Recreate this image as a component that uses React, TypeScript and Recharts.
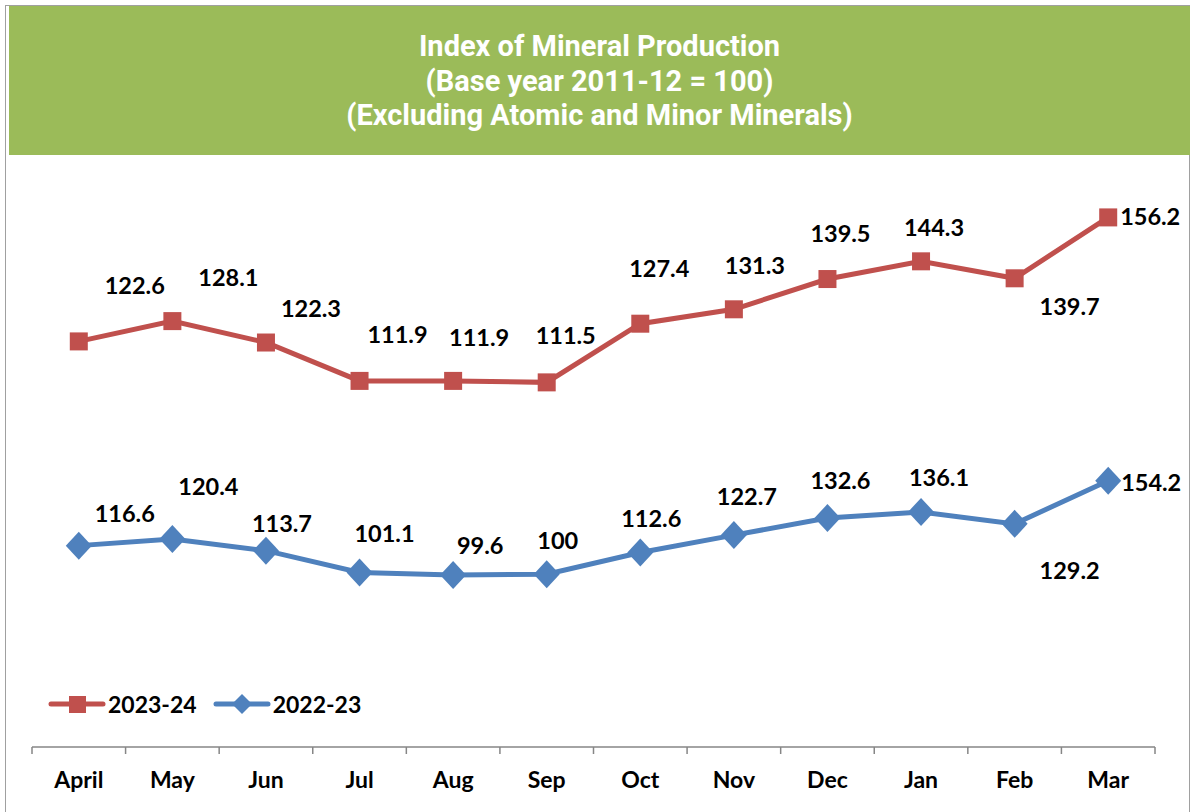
import { LineChart, Line, XAxis, YAxis, LabelList } from 'recharts'

const months = ['April', 'May', 'Jun', 'Jul', 'Aug', 'Sep', 'Oct', 'Nov', 'Dec', 'Jan', 'Feb', 'Mar']
const index2324 = [122.6, 128.1, 122.3, 111.9, 111.9, 111.5, 127.4, 131.3, 139.5, 144.3, 139.7, 156.2]
const index2223 = [116.6, 120.4, 113.7, 101.1, 99.6, 100, 112.6, 122.7, 132.6, 136.1, 129.2, 154.2]
const seriesNames = ['2023-24', '2022-23']

// hand placed data labels in the original, nudges relative to each point
const nudge2324 = [[56, -55], [56, -43], [45, -34], [38, -46], [26, -43], [19, -46], [19, -55], [21, -43], [13, -45], [13, -33], [55, 29], [42, 0]]
const nudge2223 = [[46, -32], [36, -52], [16, -27], [25, -38], [27, -29], [11, -33], [11, -34], [13, -38], [13, -37], [18, -34], [55, 47], [43, 2]]

const RED = '#C0504D'
const BLUE = '#4F81BD'
const GREEN = '#9BBB59'
const LABEL_FONT = 'Lato, "Open Sans", sans-serif'

const W = 1190
const H = 812
const PLOT_LEFT = 32
const PLOT_RIGHT = 1155
const HALF_BAND = (PLOT_RIGHT - PLOT_LEFT) / months.length / 2

const data = months.map((m, i) => ({ month: m, cur: index2324[i], prev: index2223[i] }))

const SquareDot = (props: any) => {
  const { cx, cy } = props
  if (cx == null || cy == null) return null
  return <rect x={cx - 9} y={cy - 9} width={18} height={18} fill={RED} />
}

const DiamondDot = (props: any) => {
  const { cx, cy } = props
  if (cx == null || cy == null) return null
  return <polygon points={`${cx},${cy - 14} ${cx + 13},${cy} ${cx},${cy + 14} ${cx - 13},${cy}`} fill={BLUE} />
}

const makeLabel = (nudges: number[][]) => (props: any) => {
  const { x, y, value, index } = props
  const [dx, dy] = nudges[index] || [0, -30]
  return (
    <text
      x={x + dx}
      y={y + dy + 8}
      textAnchor="middle"
      fontFamily={LABEL_FONT}
      fontWeight={700}
      fontSize={23.5}
      fill="#000"
    >
      {value}
    </text>
  )
}

const MonthTick = (props: any) => {
  const { x, y, payload, index } = props
  const left = x - HALF_BAND
  const right = x + HALF_BAND
  return (
    <g>
      <line x1={left} y1={y} x2={left} y2={y + 7} stroke="#868686" strokeWidth={1.5} />
      {index === months.length - 1 && (
        <line x1={right} y1={y} x2={right} y2={y + 7} stroke="#868686" strokeWidth={1.5} />
      )}
      <text x={x} y={y + 41} textAnchor="middle" fontFamily={LABEL_FONT} fontWeight={700} fontSize={23} fill="#000">
        {payload.value}
      </text>
    </g>
  )
}

function LegendItem({ color, name, marker }: { color: string; name: string; marker: 'square' | 'diamond' }) {
  return (
    <div style={{ display: 'flex', alignItems: 'center', marginRight: 16 }}>
      <svg width={58} height={24} style={{ display: 'block' }}>
        <line x1={3} y1={12} x2={55} y2={12} stroke={color} strokeWidth={5} strokeLinecap="round" />
        {marker === 'square' ? (
          <rect x={21} y={4} width={17} height={17} fill={color} />
        ) : (
          <polygon points="29,2 39,12 29,22 19,12" fill={color} />
        )}
      </svg>
      <span style={{ fontFamily: LABEL_FONT, fontWeight: 700, fontSize: 23, color: '#000', marginLeft: 2 }}>{name}</span>
    </div>
  )
}

export default function App() {
  return (
    <div style={{ position: 'absolute', left: 0, top: 0, width: W, height: H, background: '#fff', overflow: 'hidden' }}>
      {/* outer frame */}
      <div
        style={{
          position: 'absolute',
          left: 5,
          top: 5,
          width: 1183,
          height: 830,
          borderTop: '1.5px solid #a0a0a0',
          borderLeft: '1.5px solid #a0a0a0',
          borderRight: '1.5px solid #a0a0a0',
        }}
      />
      {/* title banner */}
      <div
        style={{
          position: 'absolute',
          left: 9,
          top: 6,
          width: W - 9,
          height: 149,
          background: GREEN,
          color: '#fff',
          textAlign: 'center',
          fontFamily: '"Liberation Sans Narrow", "Roboto", sans-serif',
          fontWeight: 700,
          fontSize: 29,
          lineHeight: '34.5px',
          paddingTop: 23,
          boxSizing: 'border-box',
        }}
      >
        <div>Index of Mineral Production</div>
        <div>(Base year 2011-12 = 100)</div>
        <div>(Excluding Atomic and Minor Minerals)</div>
      </div>

      <div style={{ position: 'absolute', left: 0, top: 0 }}>
        <LineChart width={W} height={H} data={data} margin={{ top: 165, right: W - PLOT_RIGHT, bottom: 15, left: PLOT_LEFT }}>
          <XAxis
            dataKey="month"
            height={50}
            interval={0}
            padding={{ left: HALF_BAND, right: HALF_BAND }}
            axisLine={{ stroke: '#868686', strokeWidth: 1.5 }}
            tickLine={false}
            tickSize={0}
            tickMargin={0}
            tick={<MonthTick />}
          />
          <YAxis yAxisId="cur" hide domain={[12.7, 170.4]} allowDataOverflow />
          <YAxis yAxisId="prev" hide domain={[0, 337]} allowDataOverflow />
          <Line
            yAxisId="cur"
            type="linear"
            dataKey="cur"
            name={seriesNames[0]}
            stroke={RED}
            strokeWidth={5}
            dot={<SquareDot />}
            activeDot={false}
            isAnimationActive={false}
          >
            <LabelList dataKey="cur" content={makeLabel(nudge2324)} />
          </Line>
          <Line
            yAxisId="prev"
            type="linear"
            dataKey="prev"
            name={seriesNames[1]}
            stroke={BLUE}
            strokeWidth={5}
            dot={<DiamondDot />}
            activeDot={false}
            isAnimationActive={false}
          >
            <LabelList dataKey="prev" content={makeLabel(nudge2223)} />
          </Line>
        </LineChart>
      </div>

      {/* legend */}
      <div style={{ position: 'absolute', left: 48, top: 690, display: 'flex', alignItems: 'center' }}>
        <LegendItem color={RED} name={seriesNames[0]} marker="square" />
        <LegendItem color={BLUE} name={seriesNames[1]} marker="diamond" />
      </div>
    </div>
  )
}
